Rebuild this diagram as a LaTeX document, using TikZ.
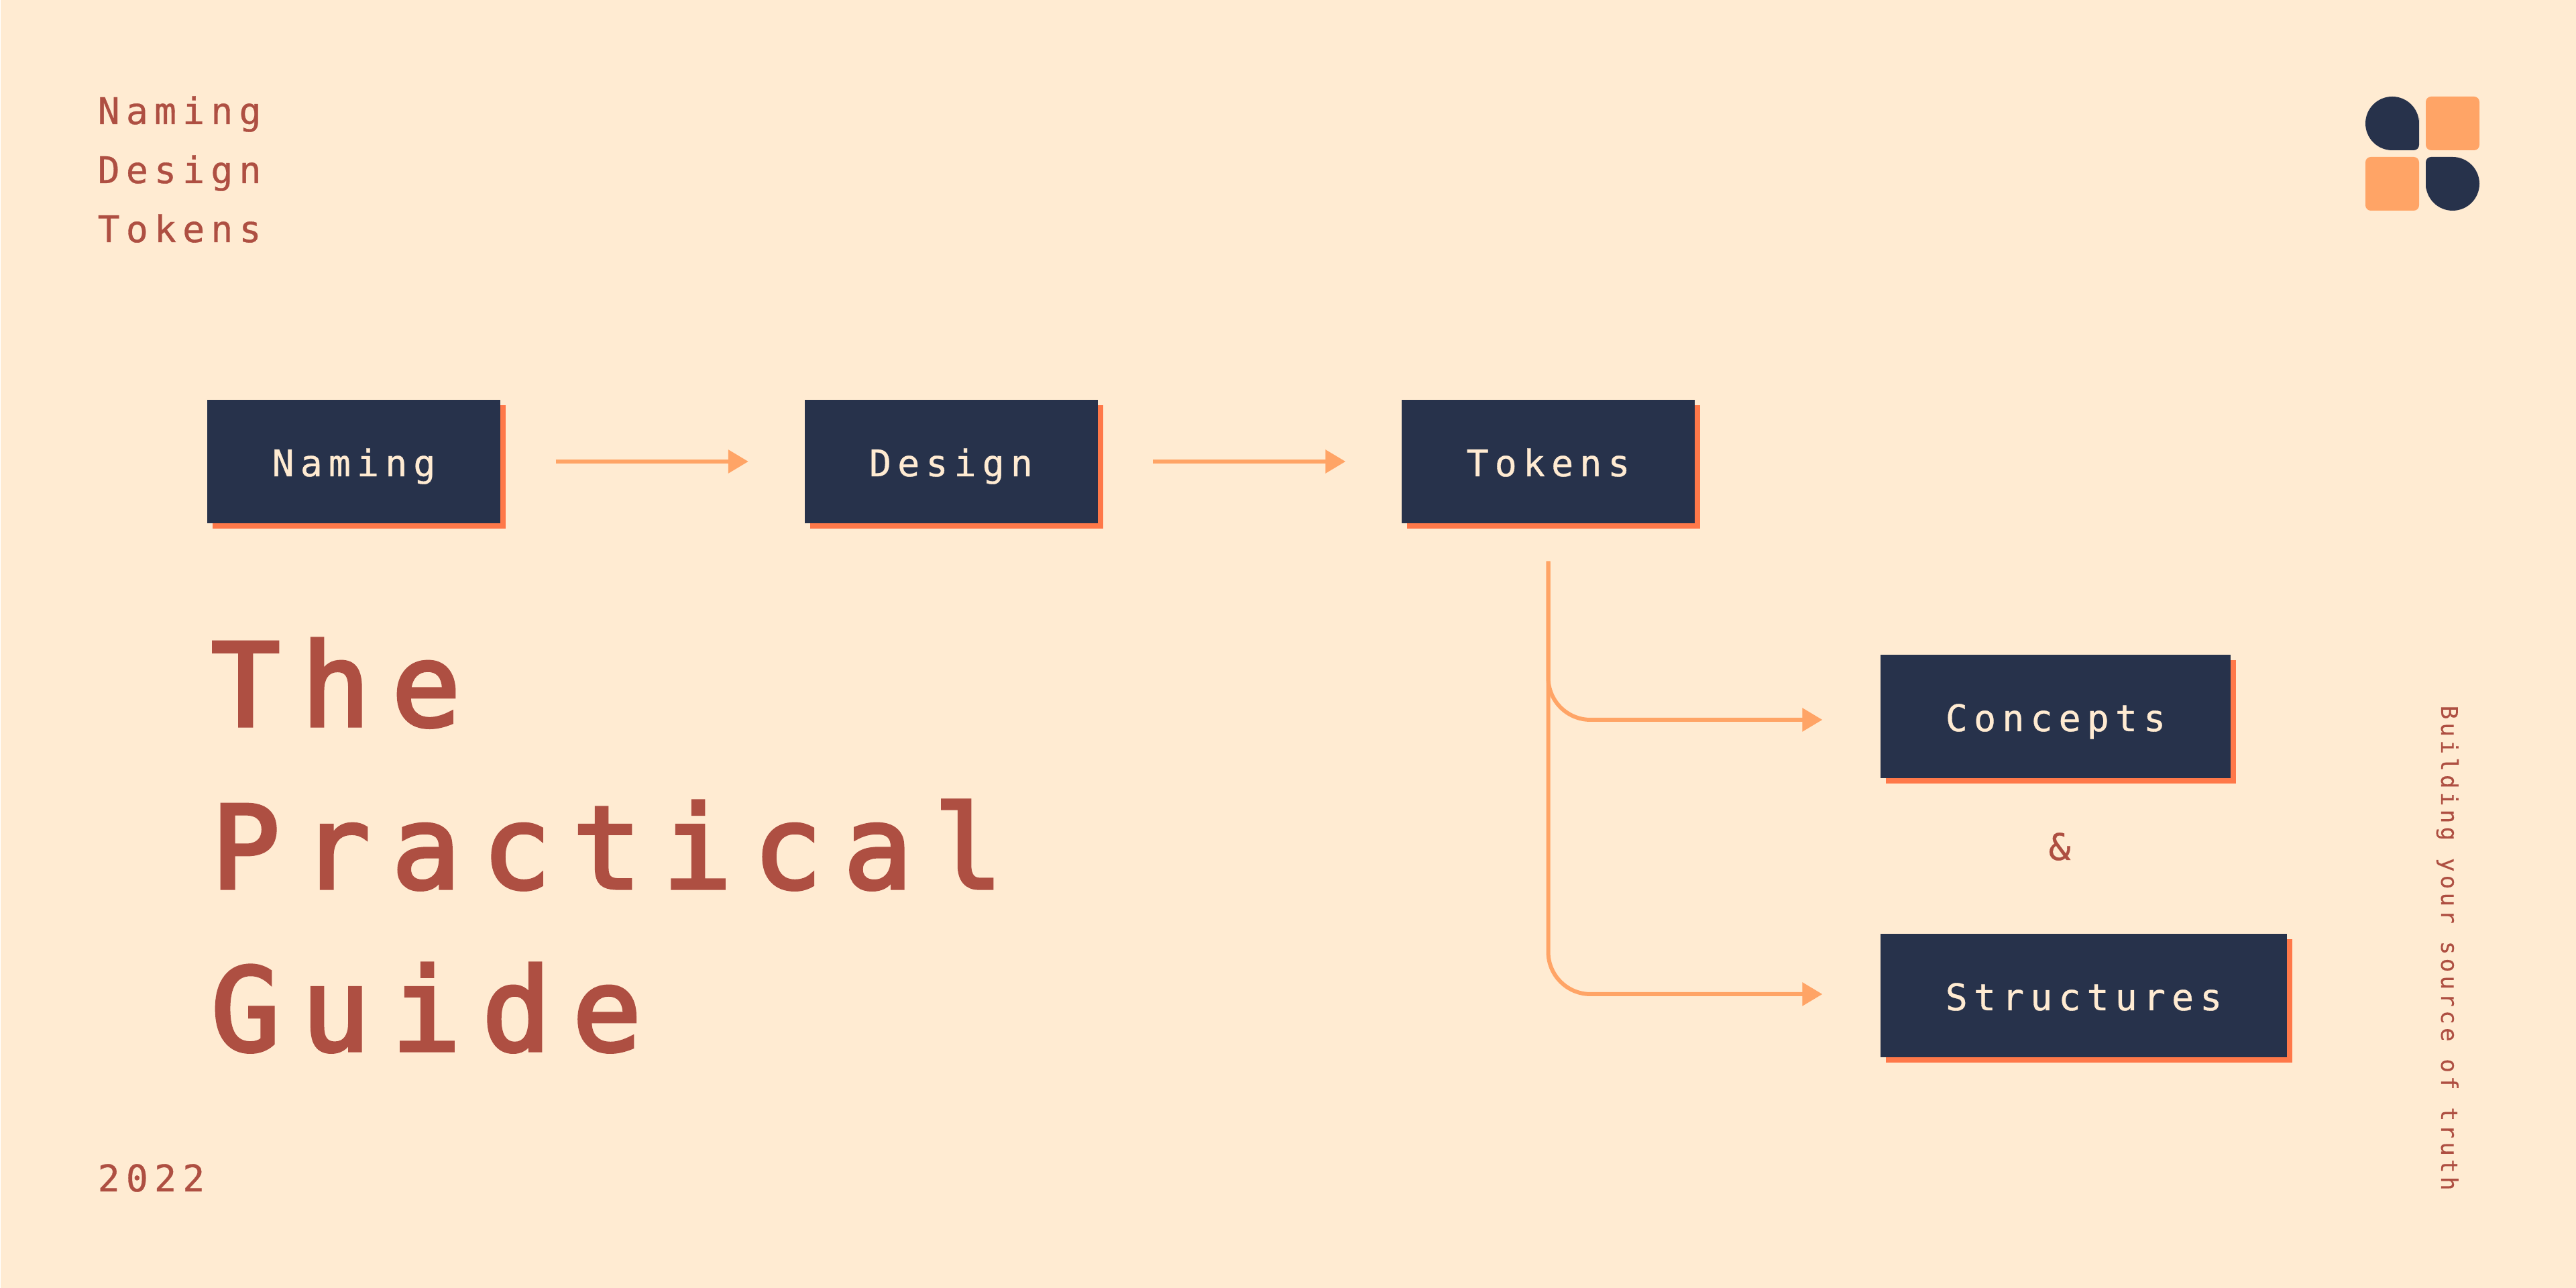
\documentclass[tikz,border=0pt]{standalone}
\usepackage{fontspec}
\usetikzlibrary{arrows.meta,shadows}
\newfontfamily\labelfont[LetterSpace=16.7,FakeBold=.6]{DejaVu Sans Mono}
\newfontfamily\sidefont[LetterSpace=15.6,FakeBold=.3]{DejaVu Sans Mono}
\newfontfamily\titlefont[LetterSpace=18.5,FakeBold=3]{DejaVu Sans Mono}
\definecolor{colorBack}{HTML}{FFEBD2}
\definecolor{colorNavy}{HTML}{27324B}
\definecolor{colorLine}{HTML}{FFA466}
\definecolor{colorShade}{HTML}{FF7849}
\definecolor{colorText}{HTML}{AE4F42}
\tikzset{%
  >={Triangle[width=3.4mm,length=3mm]},
      base/.style = {rectangle, inner xsep=0pt, inner ysep=0pt,
                     minimum height=1.84cm, text height=1.14cm, text depth=.70cm,
                     text centered, fill=colorNavy, text=colorBack,
                     font=\labelfont\fontsize{15.6}{25}\selectfont,
                     general shadow={fill=colorShade, shadow xshift=.08cm, shadow yshift=-.08cm}},
      box0/.style = {base, minimum width=4.37cm},
      box1/.style = {base, minimum width=5.22cm},
      box2/.style = {base, minimum width=6.06cm},
      note/.style = {text=colorText, inner sep=0pt, align=left,
                     font=\labelfont\fontsize{15.6}{25.04}\selectfont},
      conn/.style = {->, colorLine, line width=.6mm},
}

\begin{document}
\begin{tikzpicture}[node distance=8.905cm]
  \useasboundingbox (0,0) rectangle (38.41,19.2);
  \fill[colorBack] (.01,0) rectangle (38.41,19.2);

  \node (onNaming)     [box0] at (5.275,12.32)             {Naming};
  \node (onDesign)     [box0, right of=onNaming]           {Design};
  \node (onTokens)     [box0, right of=onDesign]           {Tokens};
  \node (onConcepts)   [box1] at (30.65,8.52)              {Concepts};
  \node (onStructures) [box2] at (31.07,4.36)              {Structures};

  \node (noteTitle)  [note, anchor=base west] at (1.45,15.59)  {Naming\\Design\\Tokens};
  \node (noteYear)   [note, anchor=base west] at (1.45,1.44)   {2022};
  \node (noteAnd)    [note, anchor=base]      at (30.71,6.38)  {\&};
  \node (noteTruth)  [note, anchor=base west, rotate=-90, font=\sidefont\fontsize{9.7}{12}\selectfont]
                     at (36.40,8.69) {Building your source of truth};
  \node (mainTitle)  [note, anchor=base west, font=\titlefont\fontsize{48.7}{68.85}\selectfont]
                     at (3.14,3.54)  {The\\Practical\\Guide};

  \draw[conn, shorten <=.82cm, shorten >=.83cm] (onNaming) -- (onDesign);
  \draw[conn, shorten <=.82cm, shorten >=.83cm] (onDesign) -- (onTokens);
  \draw[conn, rounded corners=.63cm, shorten <=.56cm, shorten >=.86cm]
       (onTokens.south) |- ([yshift=-.05cm]onConcepts.west);
  \draw[conn, rounded corners=.63cm, shorten <=.56cm, shorten >=.86cm]
       (onTokens.south) |- ([yshift=.02cm]onStructures.west);

  % logo
  \fill[colorNavy] (36.07,17.36) [rounded corners=.4cm] -- (36.07,17.76) -- (35.27,17.76) -- (35.27,16.96)
       [rounded corners=.08cm] -- (36.07,16.96) -- cycle;
  \fill[colorNavy] (36.17,16.46) [rounded corners=.4cm] -- (36.17,16.06) -- (36.97,16.06) -- (36.97,16.86)
       [rounded corners=.08cm] -- (36.17,16.86) -- cycle;
  \fill[colorLine, rounded corners=.08cm] (36.17,16.96) rectangle (36.97,17.76);
  \fill[colorLine, rounded corners=.08cm] (35.27,16.06) rectangle (36.07,16.86);
\end{tikzpicture}
\end{document}
